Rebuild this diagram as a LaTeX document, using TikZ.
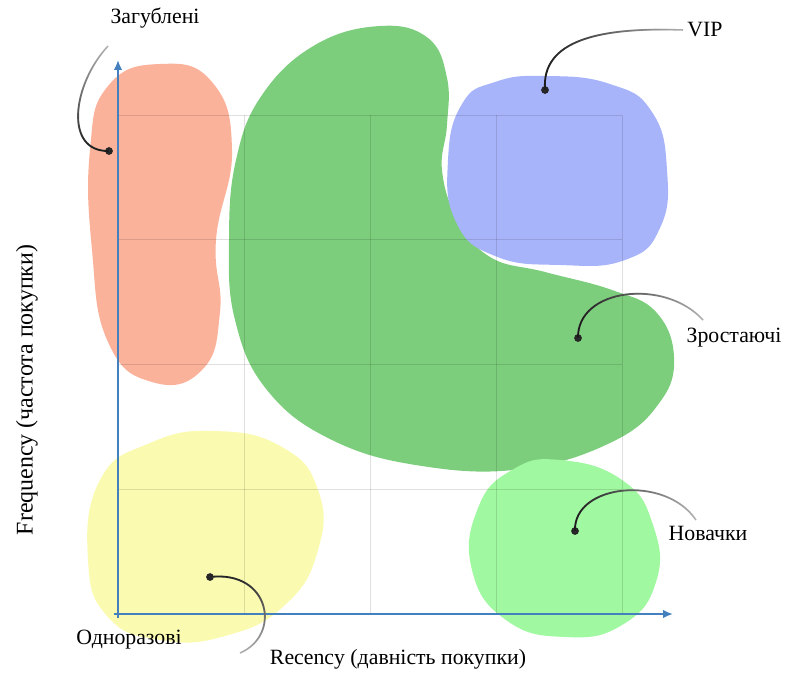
\documentclass[tikz,border=0pt]{standalone}
\usepackage{fontspec}
\setmainfont{Liberation Serif}
\usetikzlibrary{arrows.meta,fadings}
\definecolor{lostred}{RGB}{250,178,154}
\definecolor{growgreen}{RGB}{124,206,124}
\definecolor{vipblue}{RGB}{168,180,250}
\definecolor{oneyellow}{RGB}{250,250,176}
\definecolor{newgreen}{RGB}{160,248,160}
\definecolor{axisblue}{RGB}{68,128,190}
\tikzset{
  lbl/.style={font=\fontsize{15.5}{18}\selectfont},
  dot/.style={circle, fill=black!85, inner sep=0pt, minimum size=5.5pt},
  gridline/.style={black, opacity=0.12, line width=0.6pt},
  axisline/.style={axisblue, line width=1.3pt, -{Latex[length=7pt,width=6pt]}},
  leadlight/.style={black!30, line width=1.1pt},
  leaddark/.style={black!90, line width=1.3pt}
}
\begin{document}
\begin{tikzpicture}[x=0.025cm, y=-0.025cm]
    \useasboundingbox (0,0) rectangle (786,672);
    % segments
    \fill[lostred] plot[smooth cycle, tension=0.8] coordinates
        {(160,64) (212,82) (232,150) (216,240) (220,312) (202,370) (152,382) (108,342) (92,250) (90,150) (108,86)};
    \fill[growgreen] plot[smooth cycle, tension=0.7] coordinates
        {(380,26) (428,38) (447,78) (447,125) (442,170) (457,218) (490,257) (545,272) (612,290) (656,312) (674,357) (660,402) (612,442) (522,469) (422,466) (332,440) (267,390) (235,320) (229,240) (236,160) (262,95) (315,45)};
    \fill[vipblue] plot[smooth cycle, tension=0.8] coordinates
        {(545,76) (610,84) (652,112) (667,170) (660,228) (625,260) (560,265) (495,256) (456,222) (448,160) (462,104) (495,82)};
    \fill[oneyellow] plot[smooth cycle, tension=0.8] coordinates
        {(215,431) (282,447) (318,490) (318,550) (285,605) (225,636) (160,640) (108,617) (88,560) (100,480) (150,443)};
    \fill[newgreen] plot[smooth cycle, tension=0.8] coordinates
        {(560,460) (622,480) (653,525) (656,582) (622,625) (565,637) (506,620) (472,570) (478,508) (512,470)};
    % grid
    \foreach \i in {0,...,4} {
        \draw[gridline] (118+126*\i,115) -- (118+126*\i,614);
        \draw[gridline] (118,115+124.75*\i) -- (622,115+124.75*\i);
    }
    % axes
    \coordinate (o) at (118,614);
    \coordinate (ytop) at (118,60);
    \coordinate (xend) at (673,614);
    \draw[axisblue, line width=1pt] (114,614) -- (o) -- (118,618);
    \draw[axisline] (o) -- (ytop);
    \draw[axisline] (o) -- (xend);
    \node[lbl] (xlab) at (398,659) {Recency (давність покупки)};
    \node[lbl, font=\fontsize{17}{20}\selectfont, rotate=90] (ylab) at (27,390) {Frequency (частота покупки)};
    % labels and dots
    \node[lbl] (lost) at (155,18) {Загублені};
    \node[lbl] (vip) at (705,30) {VIP};
    \node[lbl] (grow) at (734,338) {Зростаючі};
    \node[lbl] (new) at (708,533) {Новачки};
    \node[lbl] (once) at (129,640) {Одноразові};
    \node[dot] (dlost) at (109,151) {};
    \node[dot] (dvip) at (545,90) {};
    \node[dot] (dgrow) at (578,338) {};
    \node[dot] (dnew) at (575,531) {};
    \node[dot] (donce) at (210,577) {};
    \coordinate (clost) at (108,46);
    \coordinate (cvip) at (683,30);
    \coordinate (cgrow) at (703,320);
    \coordinate (cnew) at (696,520);
    \coordinate (conce) at (240,653);
    % leaders
    \draw[leadlight] (clost) .. controls (72,85) and (64,152) .. (dlost.center);
    \draw[leaddark, path fading=north] (clost) .. controls (72,85) and (64,152) .. (dlost.center);
    \draw[leadlight] (dvip.center) .. controls (541,40) and (600,27) .. (cvip);
    \draw[leaddark, path fading=east] (dvip.center) .. controls (541,40) and (600,27) .. (cvip);
    \draw[leadlight] (dgrow.center) .. controls (577,288) and (665,278) .. (cgrow);
    \draw[leaddark, path fading=east] (dgrow.center) .. controls (577,288) and (665,278) .. (cgrow);
    \draw[leadlight] (dnew.center) .. controls (573,484) and (665,474) .. (cnew);
    \draw[leaddark, path fading=east] (dnew.center) .. controls (573,484) and (665,474) .. (cnew);
    \draw[leadlight] (donce.center) .. controls (270,570) and (282,635) .. (conce);
    \draw[leaddark, path fading=south] (donce.center) .. controls (270,570) and (282,635) .. (conce);
\end{tikzpicture}
\end{document}
